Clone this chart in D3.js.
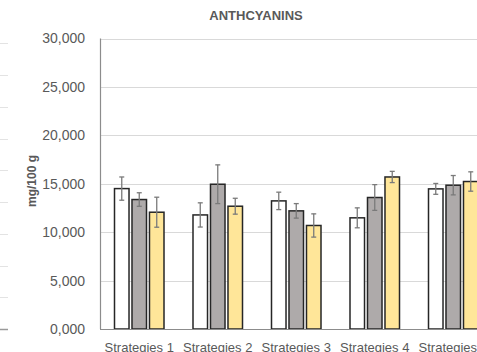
<!DOCTYPE html>
<html>
<head>
<meta charset="utf-8">
<script src="https://cdn.jsdelivr.net/npm/d3@7"></script>
<style>
  html, body { margin: 0; padding: 0; background: #fff; overflow: hidden; }
  svg { display: block; font-family: "Liberation Sans", Arial, sans-serif; }
</style>
</head>
<body>
<svg id="chart" width="477" height="352"></svg>
<script>
// Anthocyanin content per strategy (mg/100 g), three treatments each
const categories = ["Strategies 1", "Strategies 2", "Strategies 3", "Strategies 4", "Strategies 5"];
const seriesNames = ["A", "B", "C"];
const seriesA = [14500, 11780, 13230, 11480, 14470];
const seriesB = [13370, 14950, 12200, 13580, 14850];
const seriesC = [12060, 12680, 10690, 15700, 15230];
const errorA = [1200, 1250, 900, 1030, 560];
const errorB = [700, 2000, 750, 1330, 1000];
const errorC = [1550, 820, 1200, 580, 1000];
const yTicks = [0, 5000, 10000, 15000, 20000, 25000, 30000];
const neighbourTicks = [0, 1, 2, 3, 4, 5, 6, 7, 8, 9];

const fills = ["#ffffff", "#aeaaaa", "#ffe699"];
const values = [seriesA, seriesB, seriesC];
const errors = [errorA, errorB, errorC];

const svg = d3.select("#chart");

// gridlines of the adjacent panel on the left edge
const yN = d3.scaleLinear().domain([0, 9]).range([329, 43.3]);
svg.append("g").selectAll("line").data(neighbourTicks).join("line")
  .attr("x1", 0).attr("x2", 8)
  .attr("y1", d => Math.round(yN(d)) + 0.5).attr("y2", d => Math.round(yN(d)) + 0.5)
  .attr("stroke", d => d === 0 ? "#9a9a9a" : "#e3e3e3")
  .attr("stroke-width", d => d === 0 ? 1.5 : 1);

// axis title shared with the panel
svg.append("text")
  .attr("transform", "translate(36,181) rotate(-90)")
  .attr("text-anchor", "middle")
  .attr("font-size", 12).attr("font-weight", "bold").attr("fill", "#595959")
  .text("mg/100 g");

const plotLeft = 100, plotBottom = 329, plotTop = 38.5;
const x = d3.scaleBand().domain(categories).range([plotLeft, plotLeft + 5 * 78.5]);
const xs = d3.scaleBand().domain(seriesNames).range([-24.75, 24.75]).paddingInner(0.17).paddingOuter(0);
const y = d3.scaleLinear().domain([0, 30000]).range([plotBottom, plotTop]);

// horizontal gridlines
svg.append("g").selectAll("line").data(yTicks.filter(d => d > 0)).join("line")
  .attr("x1", plotLeft).attr("x2", 477)
  .attr("y1", d => Math.round(y(d)) + 0.5).attr("y2", d => Math.round(y(d)) + 0.5)
  .attr("stroke", "#d9d9d9").attr("stroke-width", 1);

// y tick labels
const yAxis = d3.axisLeft(y).tickValues(yTicks).tickSize(0).tickPadding(15)
  .tickFormat(d => d3.format(",")(d).replace(/^0$/, "0,000"));
const gy = svg.append("g").attr("transform", `translate(${plotLeft},0)`).call(yAxis);
gy.select(".domain").remove();
gy.selectAll("text").attr("font-size", 14).attr("fill", "#595959")
  .attr("font-family", "Liberation Sans, Arial, sans-serif");

// bars
const groups = svg.append("g").selectAll("g").data(categories).join("g")
  .attr("transform", d => `translate(${x(d) + x.bandwidth() / 2},0)`);

seriesNames.forEach((s, si) => {
  groups.append("rect")
    .attr("x", xs(s))
    .attr("width", xs.bandwidth())
    .attr("y", (d, i) => y(values[si][i]))
    .attr("height", (d, i) => plotBottom - y(values[si][i]))
    .attr("fill", fills[si])
    .attr("stroke", "#262626").attr("stroke-width", 1.5);
});

// error bars
seriesNames.forEach((s, si) => {
  const cx = xs(s) + xs.bandwidth() / 2;
  const eb = groups.append("g").attr("stroke", "#7a7a7a").attr("stroke-width", 1.3);
  eb.append("line")
    .attr("x1", cx).attr("x2", cx)
    .attr("y1", (d, i) => y(values[si][i] + errors[si][i]))
    .attr("y2", (d, i) => y(values[si][i] - errors[si][i]));
  eb.append("line")
    .attr("x1", cx - 2.5).attr("x2", cx + 2.5)
    .attr("y1", (d, i) => y(values[si][i] + errors[si][i]))
    .attr("y2", (d, i) => y(values[si][i] + errors[si][i]));
  eb.append("line")
    .attr("x1", cx - 2.5).attr("x2", cx + 2.5)
    .attr("y1", (d, i) => y(values[si][i] - errors[si][i]))
    .attr("y2", (d, i) => y(values[si][i] - errors[si][i]));
});

// axis lines
svg.append("line").attr("x1", plotLeft + 0.5).attr("x2", plotLeft + 0.5).attr("y1", plotTop).attr("y2", plotBottom)
  .attr("stroke", "#8c8c8c").attr("stroke-width", 1.2);
svg.append("line").attr("x1", plotLeft).attr("x2", 477).attr("y1", plotBottom + 0.5).attr("y2", plotBottom + 0.5)
  .attr("stroke", "#8c8c8c").attr("stroke-width", 1.2);

// category labels
const xAxis = d3.axisBottom(x).tickSize(0).tickPadding(14);
const gx = svg.append("g").attr("transform", `translate(0,${plotBottom})`).call(xAxis);
gx.select(".domain").remove();
gx.selectAll("text").attr("font-size", 13).attr("fill", "#595959")
  .attr("font-family", "Liberation Sans, Arial, sans-serif");

// title
svg.append("text")
  .attr("x", 256).attr("y", 20)
  .attr("text-anchor", "middle")
  .attr("font-size", 13).attr("font-weight", "bold").attr("fill", "#595959")
  .text("ANTHCYANINS");
</script>
</body>
</html>
